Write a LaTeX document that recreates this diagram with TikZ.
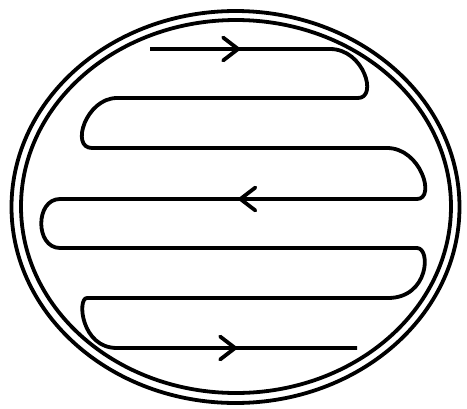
\documentclass[tikz,border=0pt]{standalone}
\usepackage{tikz}
\usetikzlibrary{decorations.markings, arrows.meta}
\tikzset{
	barb/.tip={Straight Barb[length=15pt, width=23pt, round]},
	% single arrow head at position (default is 0.5)
	arrow at/.style={
		postaction={
			decorate,
			decoration={
				markings,
				mark=at position #1 with {\arrow{barb}}
			}
		}
	},
	arrow at/.default=0.5,
	%
	wall/.style={line width=3.8pt},
	coil/.style={line width=3.8pt, line join=round}
}

\begin{document}
\begin{tikzpicture}[x=1pt, y=-1pt]
		\useasboundingbox (0,0) rectangle (467,408);
		
		% Vessel (double wall)
		\draw[wall] (235.5,207) ellipse [x radius=224, y radius=196];
		\draw[wall] (236,206.5) ellipse [x radius=215, y radius=186.5];
		
		% Rows of the coil
		\coordinate (r1w) at (150,49);  \coordinate (r1e) at (330,49);
		\coordinate (r2e) at (358,98);  \coordinate (r2w) at (117,98);
		\coordinate (r3w) at (92,148);  \coordinate (r3e) at (387,148);
		\coordinate (r4e) at (417,199); \coordinate (r4w) at (60,199);
		\coordinate (r5w) at (60,248);  \coordinate (r5e) at (417,248);
		\coordinate (r6e) at (388,298); \coordinate (r6w) at (87,298);
		\coordinate (r7w) at (117,348); \coordinate (r7e) at (357,348);
		
		\draw[coil] (r1w) -- (r1e)
			.. controls (364,49) and (378,98) .. (r2e) -- (r2w)
			.. controls (86,98) and (70,148) .. (r3w) -- (r3e)
			.. controls (421,148) and (436,199) .. (r4e) -- (r4w)
			.. controls (35,199) and (35,248) .. (r5w) -- (r5e)
			.. controls (431,248) and (429,298) .. (r6e) -- (r6w)
			.. controls (77,298) and (81,348) .. (r7w) -- (r7e);
		
		% Flow direction
		\draw[coil, arrow at] (r1w) -- (r1e);
		\draw[coil, arrow at] (r4e) -- (r4w);
		\draw[coil, arrow at] (r7w) -- (r7e);
	\end{tikzpicture}
\end{document}
